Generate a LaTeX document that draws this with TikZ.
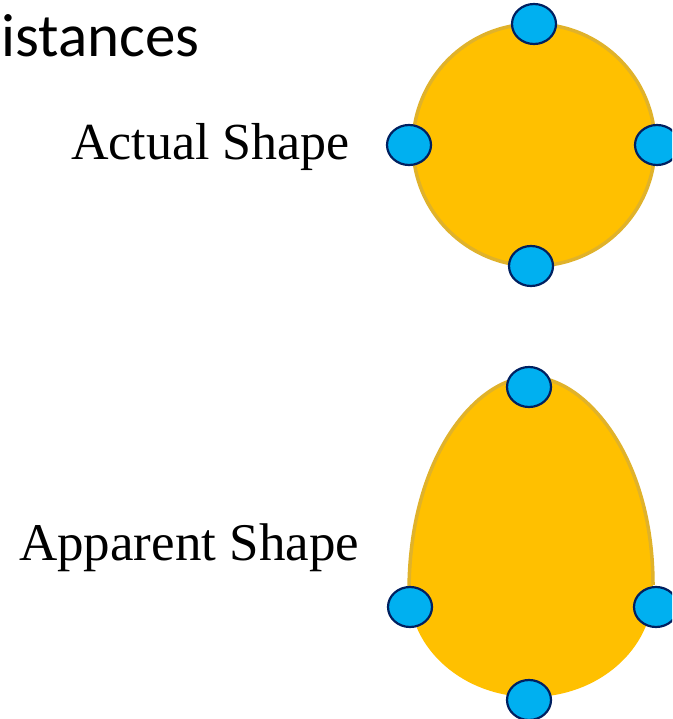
\documentclass[tikz,border=0pt]{standalone}
\usepackage{fontspec}
\setmainfont{Liberation Serif}
\newfontfamily\titlefont{Carlito}
\usetikzlibrary{shapes.geometric}
\definecolor{gold}{RGB}{255,192,0}
\definecolor{goldedge}{RGB}{224,178,42}
\definecolor{dotblue}{RGB}{0,176,240}
\definecolor{dotedge}{RGB}{0,32,96}
\tikzset{
  blob/.style={ellipse, fill=dotblue, draw=dotedge, line width=2.2pt, minimum width=44pt, minimum height=40pt, inner sep=0pt},
  lbl/.style={inner sep=0pt},
  outl/.style={draw=goldedge, line width=3.5pt}
}
\begin{document}
\begin{tikzpicture}[x=1pt,y=-1pt]
\useasboundingbox (0,0) rectangle (672,719);
\clip (0,0) rectangle (672,719);
\fill[white] (0,0) rectangle (672,719);
% partial title
\node[font=\titlefont\fontsize{61}{72}\selectfont, inner sep=0pt, anchor=base east] (title) at (200,57) {istances};
% actual shape
\node[lbl, font=\fontsize{52}{60}\selectfont, anchor=base west] (actual) at (71,160) {Actual Shape};
\node[circle, fill=gold, draw=goldedge, line width=3.5pt, minimum size=242pt, inner sep=0pt] (circ) at (534,145) {};
\node[blob] (at) at (534,24) {};
\node[blob] (al) at (409,145) {};
\node[blob] (ar) at (657,145) {};
\node[blob] (ab) at (531,266) {};
% apparent shape
\node[lbl, font=\fontsize{53}{60}\selectfont, anchor=base west] (apparent) at (19,560) {Apparent Shape};
\fill[gold] (531,377) .. controls (478,377) and (409,455) .. (409,590)
  .. controls (409,649) and (463.6,697) .. (531,697)
  .. controls (598.4,697) and (653,649) .. (653,590)
  .. controls (653,455) and (584,377) .. (531,377) -- cycle;
\draw[outl] (409,592) .. controls (409,455) and (478,377) .. (531,377)
  .. controls (584,377) and (653,455) .. (653,585);
\node[blob] (pt) at (529,387) {};
\node[blob] (pl) at (410,607) {};
\node[blob] (pr) at (656,607) {};
\node[blob] (pb) at (529,700) {};
\end{tikzpicture}
\end{document}
